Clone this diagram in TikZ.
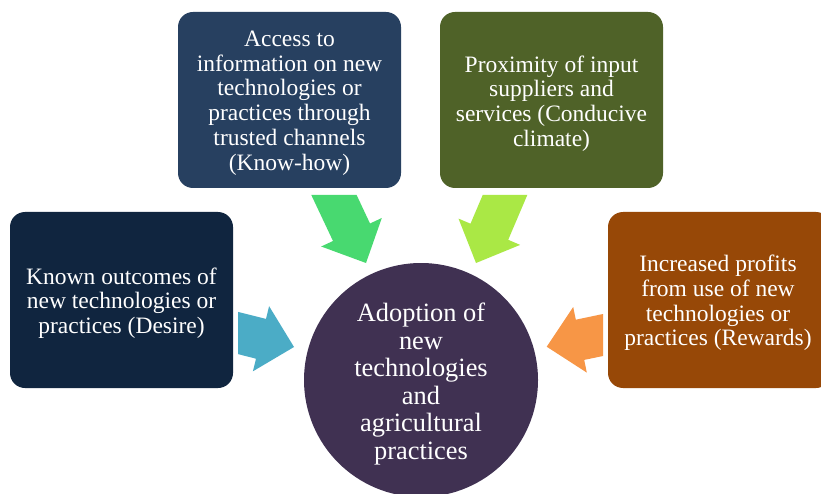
\documentclass[tikz,border=0pt]{standalone}
\usepackage{fontspec}
\setmainfont{Liberation Serif}
\usetikzlibrary{calc}
\definecolor{cAccess}{HTML}{274060}
\definecolor{cProx}{HTML}{4F6228}
\definecolor{cKnown}{HTML}{10253F}
\definecolor{cProfit}{HTML}{974807}
\definecolor{cCircle}{HTML}{403152}
\definecolor{aGreen}{HTML}{48D970}
\definecolor{aLime}{HTML}{AAE845}
\definecolor{aBlue}{HTML}{4BACC6}
\definecolor{aOrange}{HTML}{F79646}
\begin{document}
\begin{tikzpicture}[x=1pt,y=-1pt,
  infobox/.style={rectangle, rounded corners=15pt, minimum width=223pt, minimum height=176pt,
    inner sep=0pt},
  boxtext/.style={text=white, align=center, inner sep=0pt, font=\fontsize{23.5}{24.7}\selectfont},
  hub/.style={circle, minimum size=234pt, inner sep=0pt, fill=cCircle},
  hubtext/.style={text=white, align=center, inner sep=0pt, font=\fontsize{26.4}{27.6}\selectfont},
  blockarrow/.style={draw=none}]
\useasboundingbox (0,0) rectangle (821,494);
\fill[white] (0,0) rectangle (821,494);
\clip (0,0) rectangle (821,494);

\node[infobox, fill=cAccess] (access) at (289.5,100) {};
\node[infobox, fill=cProx] (prox) at (551.5,100) {};
\node[infobox, fill=cKnown] (known) at (121.5,300) {};
\node[infobox, fill=cProfit] (profit) at (719.5,300) {};
\node[hub] (hub) at (421,380) {};

\node[boxtext] (accesstext) at ($(access.center)+(0,3)$) {Access to\\information on new\\technologies or\\practices through\\trusted channels\\(Know-how)};
\node[boxtext] (proxtext) at ($(prox.center)+(0,3.5)$) {Proximity of input\\suppliers and\\services (Conducive\\climate)};
\node[boxtext] (knowntext) at ($(known.center)+(0,3)$) {Known outcomes of\\new technologies or\\practices (Desire)};
\node[boxtext] (profittext) at ($(profit.center)+(-1.5,3)$) {Increased profits\\from use of new\\technologies or\\practices (Rewards)};
\node[hubtext] (hubtext) at ($(hub.center)+(0,4)$) {Adoption of\\new\\technologies\\and\\agricultural\\practices};

% block arrows
\fill[aGreen, blockarrow] (311.3,195) -- (356.6,195) -- (370.0,223.5) -- (381.8,218.0) -- (366,263) -- (321.2,246.5) -- (333.0,241.0) -- cycle;
\fill[aLime, blockarrow] (482.7,195) -- (527.3,195) -- (508.2,239.8) -- (520.1,244.9) -- (476,263) -- (458.5,218.6) -- (470.5,223.7) -- cycle;
\fill[aBlue, blockarrow] (238,311.9) -- (266,318.9) -- (269.1,306.2) -- (294,347) -- (252.9,371.3) -- (256,358.7) -- (238,354.1) -- cycle;
\fill[aOrange, blockarrow] (603,314) -- (575.8,319.7) -- (573.2,307) -- (546.7,346.7) -- (586.8,372.6) -- (584.2,359.9) -- (603,356) -- cycle;
\end{tikzpicture}
\end{document}
